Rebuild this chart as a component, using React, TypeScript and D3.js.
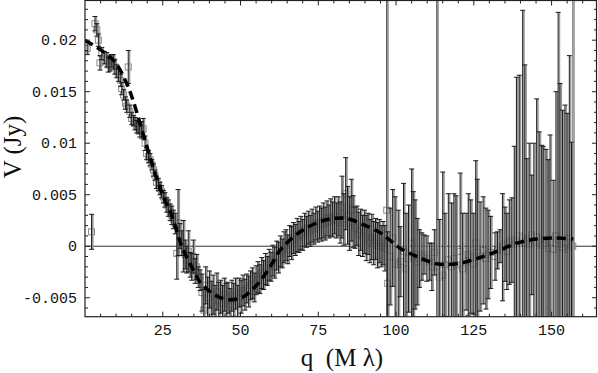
import React from "react";
import * as d3 from "d3";

// ---- data ----
// q (Mλ), visibility V (Jy), 1σ error (Jy)
const qVals: number[] = [
  0.7, 2.1, 3.2, 3.8, 4.3, 4.8, 5.4, 6.2, 7.0, 7.5, 8.0, 8.6, 9.1, 9.6, 10.2, 10.8, 11.5, 11.8, 12.4, 13.0,
  13.4, 13.9, 14.4, 15.0, 15.6, 16.1, 16.6, 17.1, 17.6, 18.2, 18.7, 19.3, 19.8, 20.4, 20.9, 21.5, 22.0, 22.5, 23.0, 23.6,
  24.1, 24.6, 25.2, 25.7, 26.3, 26.8, 27.4, 27.9, 28.4, 29.0, 29.5, 29.9, 30.5, 31.1, 31.6, 32.2, 32.7, 33.2, 33.8, 34.3,
  34.8, 35.4, 35.9, 36.4, 37.0,
  37.6, 38.2, 38.8, 39.4, 40.0, 40.6, 41.2, 41.8, 42.4, 43.0, 43.6, 44.2, 44.8, 45.4, 46.0, 46.6, 47.2, 47.8, 48.4, 49.0,
  49.6, 50.2, 50.8, 51.4, 52.0, 52.6, 53.2, 53.8, 54.4, 55.0, 55.6, 56.2, 56.8, 57.4, 58.0, 58.6, 59.2, 59.8, 60.4, 61.0,
  61.6, 62.2, 62.8, 63.4, 64.0, 64.6, 65.2, 65.8, 66.4, 67.0, 67.6, 68.2, 68.8, 69.4, 70.0, 70.6, 71.2, 71.8, 72.4, 73.0,
  73.6, 74.2, 74.8, 75.4, 76.0, 76.6, 77.2, 77.8, 78.4, 79.0, 79.6, 80.2, 80.8, 81.4, 82.0, 82.6, 83.2, 83.8, 84.4, 85.0,
  85.6, 86.2, 86.8, 87.4, 88.0, 88.6, 89.2, 89.8, 90.4, 91.0, 91.6, 92.2, 92.8, 93.4, 94.0, 94.6, 95.2, 95.8, 96.4,
  97.0, 97.3, 98.1, 98.9, 99.7, 100.7, 101.3, 102.4, 103.2, 104.0, 105.0, 105.5, 106.1, 106.8, 107.5, 108.3, 109.0, 109.9, 110.8, 111.5,
  112.3, 113.1, 113.9, 115.0, 115.7, 116.8, 117.8, 118.6, 119.3, 120.6, 121.4, 122.5, 123.2, 124.0, 124.8, 125.6, 126.1, 127.0, 128.0, 128.9,
  129.6, 130.4, 131.8, 132.6, 133.4, 134.2, 135.0, 135.6, 136.4, 137.2, 138.0, 138.7, 139.6, 140.7, 141.4, 142.0, 142.8, 143.6, 144.3, 145.2,
  146.0, 146.8, 147.3, 148.2, 148.9, 149.5, 150.5, 151.4, 152.1, 152.7, 153.5, 154.3, 155.0, 155.7, 156.4, 156.8,
];
const vVals: number[] = [
  0.0192, 0.0014, 0.0216, 0.021, 0.02, 0.0178, 0.0187, 0.0183, 0.0181, 0.0176, 0.0176, 0.018, 0.0179, 0.0174, 0.017, 0.0166, 0.0161, 0.0153, 0.0147, 0.0139,
  0.0136, 0.0174, 0.0131, 0.0124, 0.0122, 0.0119, 0.0116, 0.0115, 0.0113, 0.0113, 0.0114, 0.01, 0.009, 0.0087, 0.0084, 0.0079, 0.0074, 0.0069, 0.0062, 0.006,
  0.0056, 0.0053, 0.0048, 0.0045, 0.004, 0.0037, 0.0033, 0.003, 0.0026, 0.0022, -0.0007, 0.0023, 0.001, 0.0003, 0.0, -0.0008, -0.0013, -0.0005, -0.0018, -0.002,
  -0.001, -0.0024, -0.002, -0.003, -0.0033,
  -0.0045, -0.0062, -0.0038, -0.005, -0.0042, -0.0055, -0.0047, -0.0058, -0.0044, -0.0052, -0.0049, -0.0056, -0.0047, -0.0053, -0.005, -0.0057, -0.0048, -0.0052, -0.0046, -0.0054,
  -0.0045, -0.0049, -0.0043, -0.0047, -0.0041, -0.0044, -0.0038, -0.0036, -0.004, -0.0033, -0.003, -0.0032, -0.0026, -0.0028, -0.0022, -0.0024, -0.0018, -0.002, -0.0014, -0.0016,
  -0.0009, -0.0011, -0.0005, -0.0007, -0.0001, 0.0001, -0.0003, 0.0005, 0.0003, 0.0008, 0.0006, 0.0011, 0.0009, 0.0013, 0.0011, 0.0016, 0.0014, 0.0018, 0.0015, 0.002,
  0.0017, 0.0022, 0.0019, 0.0023, 0.0021, 0.0025, 0.0022, 0.0027, 0.0024, 0.0028, 0.0026, 0.003, 0.0025, 0.0029, 0.0023, 0.0038, 0.0026, 0.0051, 0.003, 0.0022,
  0.0035, 0.0024, 0.0018, 0.002, 0.0012, 0.0016, 0.001, 0.0014, 0.0008, 0.0012, 0.0005, 0.0009, 0.0003, 0.0007, 0.0001, 0.0005, 0.0, 0.0003, -0.0002,
  0.0035, -0.0036, -0.001, 0.0008, -0.0017, -0.0018, -0.0015, -0.0005, -0.0022, -0.0012, 0.0003, -0.001, -0.0008, -0.0015, -0.0012, -0.001, -0.0008, -0.0012, -0.0015, -0.002,
  -0.0006, -0.002, -0.003, -0.0028, -0.0018, -0.0013, -0.002, -0.0012, -0.0018, -0.0005, -0.0022, -0.0015, -0.0008, -0.001, -0.0017, 0.0003, -0.0006, -0.001, -0.0004, -0.0012,
  -0.0008, -0.0006, -0.001, -0.0004, 0.0, -0.0001, 0.0002, -0.0005, 0.0004, 0.0006, 0.0002, 0.0005, 0.001, 0.0008, 0.0003, 0.0006, 0.0002, 0.0011, 0.0005, 0.0009,
  0.0004, 0.0001, 0.0006, 0.0003, -0.0002, 0.0004, -0.0003, 0.001, 0.0006, 0.0002, -0.0001, -0.0003, 0.0004, 0.0008, 0.0001, 0.0,
];
const eVals: number[] = [
  0.0006, 0.0017, 0.0007, 0.0006, 0.0006, 0.0007, 0.0006, 0.0006, 0.0007, 0.0007, 0.0006, 0.0006, 0.0007, 0.0007, 0.0006, 0.0006, 0.0006, 0.0006, 0.0005, 0.0006,
  0.0006, 0.0016, 0.0006, 0.0006, 0.0005, 0.0006, 0.0006, 0.0006, 0.0007, 0.0008, 0.001, 0.0007, 0.0006, 0.0006, 0.0006, 0.0005, 0.0006, 0.0005, 0.0006, 0.0006,
  0.0006, 0.0006, 0.0006, 0.0007, 0.0007, 0.0008, 0.0008, 0.0009, 0.0009, 0.001, 0.0025, 0.0032, 0.0012, 0.0012, 0.0025, 0.0014, 0.0013, 0.002, 0.0012, 0.0013,
  0.0016, 0.0012, 0.0012, 0.001, 0.001,
  0.0018, 0.002, 0.0018, 0.002, 0.0018, 0.0021, 0.0019, 0.002, 0.0018, 0.0017, 0.0016, 0.0018, 0.0016, 0.0017, 0.0015, 0.0016, 0.0015, 0.0016, 0.0015, 0.0016,
  0.0014, 0.0016, 0.0015, 0.0015, 0.0014, 0.0015, 0.0014, 0.0015, 0.0014, 0.0014, 0.0015, 0.0014, 0.0015, 0.0014, 0.0015, 0.0014, 0.0015, 0.0014, 0.0015, 0.0015,
  0.0014, 0.0015, 0.0015, 0.0014, 0.0015, 0.0015, 0.0014, 0.0015, 0.0016, 0.0015, 0.0015, 0.0016, 0.0015, 0.0016, 0.0015, 0.0016, 0.0015, 0.0016, 0.0015, 0.0016,
  0.0015, 0.0016, 0.0015, 0.0016, 0.0016, 0.0017, 0.0016, 0.0017, 0.0016, 0.0018, 0.0017, 0.0018, 0.0017, 0.0019, 0.002, 0.003, 0.0025, 0.0035, 0.0028, 0.0026,
  0.003, 0.0025, 0.002, 0.0019, 0.0021, 0.002, 0.002, 0.0021, 0.0022, 0.002, 0.0021, 0.0022, 0.0021, 0.002, 0.0022, 0.0021, 0.002, 0.0021, 0.0022,
  0.05, 0.005, 0.0047, 0.0047, 0.0065, 0.0053, 0.0034, 0.0066, 0.0054, 0.0052, 0.0072, 0.0063, 0.0053, 0.0042, 0.0028, 0.0023, 0.0019, 0.0022, 0.0018, 0.0023,
  0.0022, 0.05, 0.0056, 0.01, 0.005, 0.0064, 0.0062, 0.0063, 0.0067, 0.0076, 0.0054, 0.0047, 0.0059, 0.0055, 0.0049, 0.008, 0.0071, 0.0053, 0.0052, 0.0049,
  0.0043, 0.0035, 0.0023, 0.0018, 0.0016, 0.0052, 0.0036, 0.0037, 0.0041, 0.0041, 0.0095, 0.0159, 0.0156, 0.0221, 0.0173, 0.0079, 0.0098, 0.0058, 0.0095, 0.0134,
  0.0107, 0.0097, 0.0091, 0.0091, 0.0086, 0.0104, 0.0067, 0.014, 0.0221, 0.0156, 0.0133, 0.014, 0.0125, 0.0177, 0.01, 0.05,
];

// fitted model curve (dashed)
const fitQ: number[] = [0, 4.8, 9.6, 13.4, 15.4, 18.6, 21.9, 25.2, 27.9, 31.1, 34.8, 37, 40.2, 43.5, 46.6, 50.9, 55.7, 59.5, 62.7, 65.9, 70.2, 75.6, 79.8, 84.1, 89.5, 94.9, 98, 101.3, 106.7, 113.1, 119.5, 125.9, 132.4, 138.8, 145.2, 151.7, 157];
const fitV: number[] = [0.02, 0.0191, 0.0179, 0.0158, 0.0142, 0.011, 0.0077, 0.0048, 0.003, 0.0, -0.0023, -0.0035, -0.0044, -0.005, -0.0052, -0.0049, -0.0036, -0.002, -0.0004, 0.0006, 0.0016, 0.0024, 0.0027, 0.0027, 0.0021, 0.0013, 0.0006, -0.0002, -0.001, -0.0017, -0.0017, -0.0012, -0.0005, 0.0003, 0.0007, 0.0008, 0.0007];

const xMajor: number[] = [25, 50, 75, 100, 125, 150];
const xTickLabels: string[] = ["25", "50", "75", "100", "125", "150"];
const yMajor: number[] = [-0.005, 0, 0.005, 0.01, 0.015, 0.02];
const yTickLabels: string[] = ["-0.005", "0", "0.005", "0.01", "0.015", "0.02"];

export default function App() {
  const W = 598, H = 373;
  const L = 85, R = 597, T = 0.5, B = 316.7;
  const x = d3.scaleLinear().domain([0, 164.6]).range([L, R]);
  const y = d3.scaleLinear().domain([-0.00684, 0.0239]).range([B, 0]);

  const xMinor = d3.range(5, 165, 5).filter((v) => v % 25 !== 0);
  const yMinor = d3.range(-6, 24, 1).map((v) => v / 1000).filter((v) => Math.abs((v * 1000) % 5) > 0.01);

  const fitData = fitQ.map((q, i) => [q, fitV[i]] as [number, number]);
  const fitPath = d3.line<[number, number]>().x((d) => x(d[0])).y((d) => y(d[1])).curve(d3.curveCatmullRom)(fitData) || "";

  const pts = qVals.map((q, i) => ({ q, v: vVals[i], e: eVals[i] }));
  const cap = 2.5;
  const mono = "'Liberation Mono', 'DejaVu Sans Mono', monospace";
  const serif = "'Liberation Serif', 'DejaVu Serif', serif";

  return (
    <svg width={W} height={H} style={{ position: "absolute", left: 0, top: 0, background: "#fff" }}>
      <defs>
        <clipPath id="plot">
          <rect x={L} y={0} width={R - L} height={B} />
        </clipPath>
      </defs>
      <g clipPath="url(#plot)">
        <line x1={L} x2={R} y1={y(0)} y2={y(0)} stroke="#333" strokeWidth={1} />
        {pts.map((p, i) => (
          <rect key={"b" + i} x={x(p.q) + 0.5} y={y(p.v + p.e)} width={1.6} height={y(p.v - p.e) - y(p.v + p.e)} fill="#9a9a9a" />
        ))}
        {pts.map((p, i) => (
          <rect key={"s" + i} x={x(p.q) - 3} y={y(p.v) - 3} width={6} height={6} fill="none" stroke="#8c8c8c" strokeWidth={1} />
        ))}
        {pts.map((p, i) => {
          const cx = x(p.q);
          const y1 = y(p.v + p.e), y2 = y(p.v - p.e);
          const col = p.e > 0.03 ? (p.q > 150 ? "#777" : "#333") : "#1a1a1a";
          return (
            <g key={"e" + i} stroke={col} strokeWidth={1}>
              <line x1={cx} x2={cx} y1={y1} y2={y2} />
              <line x1={cx - cap} x2={cx + cap} y1={y1} y2={y1} />
              <line x1={cx - cap} x2={cx + cap} y1={y2} y2={y2} />
            </g>
          );
        })}
        <path d={fitPath} fill="none" stroke="#000" strokeWidth={3.5} strokeDasharray="9 5" />
      </g>

      <rect x={L} y={T} width={R - L - 0.5} height={B - T} fill="none" stroke="#222" strokeWidth={1.2} />

      {xMajor.map((v) => (
        <g key={"xm" + v} stroke="#222" strokeWidth={1}>
          <line x1={x(v)} x2={x(v)} y1={B} y2={B - 5} />
          <line x1={x(v)} x2={x(v)} y1={T} y2={T + 5} />
        </g>
      ))}
      {xMinor.map((v) => (
        <g key={"xn" + v} stroke="#222" strokeWidth={1}>
          <line x1={x(v)} x2={x(v)} y1={B} y2={B - 3} />
          <line x1={x(v)} x2={x(v)} y1={T} y2={T + 3} />
        </g>
      ))}
      {yMajor.map((v) => (
        <g key={"ym" + v} stroke="#222" strokeWidth={1}>
          <line x1={L} x2={L + 5} y1={y(v)} y2={y(v)} />
          <line x1={R} x2={R - 5} y1={y(v)} y2={y(v)} />
        </g>
      ))}
      {yMinor.map((v) => (
        <g key={"yn" + v} stroke="#222" strokeWidth={1}>
          <line x1={L} x2={L + 3} y1={y(v)} y2={y(v)} />
          <line x1={R} x2={R - 3} y1={y(v)} y2={y(v)} />
        </g>
      ))}

      {xMajor.map((v, i) => (
        <text key={"xl" + v} x={x(v)} y={335} textAnchor="middle" fontFamily={mono} fontSize={15} fill="#111">
          {xTickLabels[i]}
        </text>
      ))}
      {yMajor.map((v, i) => (
        <text key={"yl" + v} x={77} y={y(v) + 5} textAnchor="end" fontFamily={mono} fontSize={15} fill="#111">
          {yTickLabels[i]}
        </text>
      ))}

      <text x={342} y={366} textAnchor="middle" fontFamily={serif} fontSize={25} fill="#111" xmlSpace="preserve">
        {"q  (M λ)"}
      </text>
      <text transform="translate(21,147) rotate(-90)" textAnchor="middle" fontFamily={serif} fontSize={25} fill="#111">
        V (Jy)
      </text>
    </svg>
  );
}
